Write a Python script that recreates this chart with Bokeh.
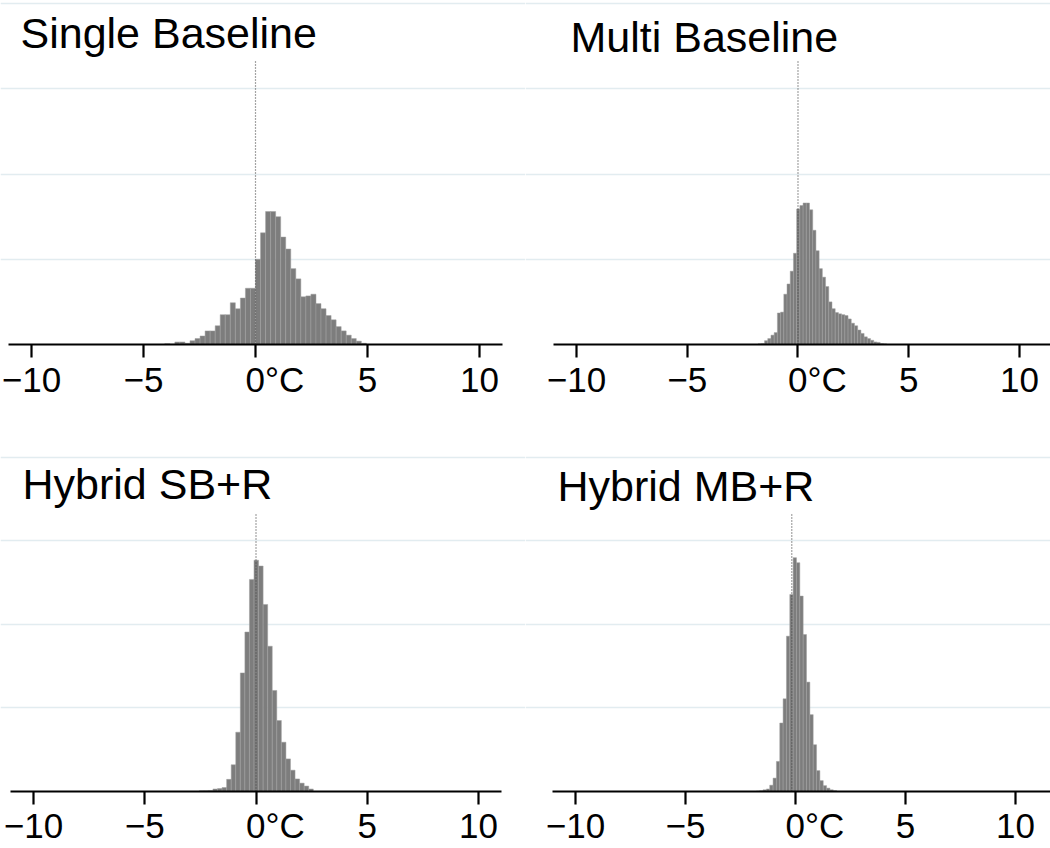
from bokeh.plotting import figure
from bokeh.models import Range1d, FixedTicker, Label
from bokeh.layouts import gridplot
from bokeh.embed import file_html
from bokeh.resources import INLINE

FONT = "Liberation Sans"

# ---------------- data ----------------
titles = ["Single Baseline", "Multi Baseline", "Hybrid SB+R", "Hybrid MB+R"]

# histogram binning per panel: left edge of the first bin and bin width (°C)
bin_start = [-4.05, -1.80, -2.55, -1.78]
bin_width = [0.225, 0.145, 0.205, 0.152]

# bar heights (relative frequency, gridline spacing = 1)
single_baseline = [0.01, 0.005, 0.03, 0.03, 0.015, 0.045, 0.07, 0.10, 0.16, 0.16,
                   0.22, 0.35, 0.35, 0.49, 0.42, 0.545, 0.66, 0.66, 1.00, 1.31,
                   1.56, 1.56, 1.50, 1.26, 1.12, 0.89, 0.77, 0.56, 0.57, 0.59,
                   0.48, 0.42, 0.34, 0.29, 0.21, 0.16, 0.11, 0.07, 0.04, 0.015]
multi_baseline = [0.008, 0.012, 0.045, 0.07, 0.11, 0.14, 0.37, 0.38, 0.59, 0.71,
                  0.86, 1.07, 1.59, 1.63, 1.66, 1.66, 1.58, 1.34, 1.10, 0.89,
                  0.79, 0.68, 0.50, 0.42, 0.375, 0.36, 0.35, 0.34, 0.30, 0.25,
                  0.22, 0.17, 0.13, 0.09, 0.07, 0.05, 0.03, 0.025, 0.012, 0.008]
hybrid_sb_r = [0.008, 0.01, 0.012, 0.03, 0.035, 0.047, 0.145, 0.32, 0.71, 1.42,
               1.91, 2.54, 2.77, 2.70, 2.24, 1.74, 1.21, 0.85, 0.59, 0.39,
               0.255, 0.15, 0.10, 0.065, 0.03]
hybrid_mb_r = [0.005, 0.01, 0.02, 0.03, 0.075, 0.16, 0.36, 0.82, 1.11, 1.86,
               2.36, 2.80, 2.74, 2.34, 1.88, 1.31, 0.92, 0.56, 0.25, 0.13,
               0.07, 0.04, 0.02, 0.01]
series = [single_baseline, multi_baseline, hybrid_sb_r, hybrid_mb_r]

# dotted reference line position (°C) and its height
ref_x = [0.0, 0.0, 0.0, -0.17]
ref_top = 3.32

x_ticks = [-10, -5, 0, 5, 10]
x_tick_labels = ["\u221210", "\u22125", "0\u00b0C", "5", "10"]
grid_levels = [1, 2, 3, 4]

# ---------------- layout / style ----------------
W = 525
ROW_H = [454, 394]
# per panel: x range, y range, drawn extent of axis/grid, title position
x_ranges = [(-11.384, 12.054), (-12.302, 11.40), (-11.483, 12.112), (-12.273, 11.59)]
y_ranges = [(-1.290, 4.035), (-1.290, 4.035), (-0.683, 4.036), (-0.683, 4.036)]
extent = [(-11.027, 11.027), (-11.04, 11.40), (-11.034, 11.034), (-11.045, 11.59)]
title_pos = [(-10.491, 3.653), (-10.270, 3.606), (-10.494, 3.681), (-10.818, 3.657)]
TICK_OUT = 13
STANDOFF = 2
TICK_FS = 35


def tick_label(t, lab):
    # keep the "0" of "0°C" centred under its tick (two figure spaces balance "°C")
    return "\u2007\u2007" + lab if t == 0 else lab


def make_panel(i):
    p = figure(width=W, height=ROW_H[i // 2],
               x_range=Range1d(*x_ranges[i]), y_range=Range1d(*y_ranges[i]),
               output_backend="svg", toolbar_location=None,
               y_axis_location=None,
               min_border_left=0, min_border_right=0,
               min_border_top=0, min_border_bottom=0)
    p.outline_line_color = None
    p.background_fill_color = "white"
    p.border_fill_color = "white"

    p.xgrid.visible = False
    p.ygrid.ticker = FixedTicker(ticks=grid_levels)
    p.ygrid.bounds = extent[i]
    p.ygrid.grid_line_color = "#e2ecf0"
    p.ygrid.grid_line_width = 1.5

    h = series[i]
    lefts = [bin_start[i] + k * bin_width[i] for k in range(len(h))]
    rights = [l + bin_width[i] for l in lefts]
    p.quad(left=lefts, right=rights, bottom=0, top=h,
           fill_color="#7d7d7d", line_color="#a0a0a0", line_width=0.5)

    p.segment(x0=[ref_x[i]], y0=[0], x1=[ref_x[i]], y1=[ref_top],
              line_color="#4a4a4a", line_dash="1 2", line_width=1.2)

    ax = p.xaxis[0]
    ax.fixed_location = 0
    ax.bounds = extent[i]
    ax.ticker = FixedTicker(ticks=x_ticks)
    ax.major_label_overrides = {t: tick_label(t, lab) for t, lab in zip(x_ticks, x_tick_labels)}
    ax.axis_line_color = "black"
    ax.axis_line_width = 2
    ax.major_tick_line_color = "black"
    ax.major_tick_line_width = 2.2
    ax.major_tick_out = TICK_OUT
    ax.major_tick_in = 0
    ax.minor_tick_line_color = None
    ax.major_label_standoff = STANDOFF
    ax.major_label_text_font = FONT
    ax.major_label_text_font_size = f"{TICK_FS}px"
    ax.major_label_text_color = "black"

    tx, ty = title_pos[i]
    p.add_layout(Label(x=tx, y=ty, text=titles[i], text_align="left",
                       text_baseline="alphabetic", text_font=FONT,
                       text_font_size="43px", text_color="black"))
    return p


panels = [make_panel(i) for i in range(4)]
grid = gridplot([[panels[0], panels[1]], [panels[2], panels[3]]], toolbar_location=None)

open("out.html", "w").write(file_html(grid, INLINE, title="Histograms"))
